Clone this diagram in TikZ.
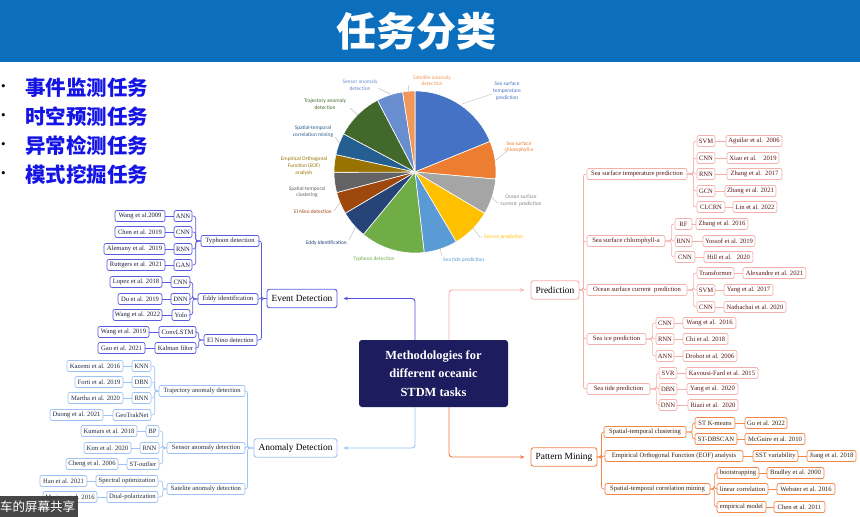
\documentclass[tikz,border=0pt]{standalone}
\usepackage{fontspec}
\setmainfont{Liberation Serif}
\newfontfamily\cjk{Noto Sans CJK SC}
\newfontfamily\pief{Carlito}
\usetikzlibrary{arrows.meta}
\definecolor{barblue}{HTML}{0B6FBE}
\definecolor{bulletblue}{HTML}{1414E6}
\definecolor{navy}{HTML}{1C1C5E}
\definecolor{evc}{HTML}{5A5ADF}
\definecolor{evt}{HTML}{1E1E40}
\definecolor{anc}{HTML}{9CC2F6}
\definecolor{ant}{HTML}{1E2A45}
\definecolor{prc}{HTML}{F5B0AC}
\definecolor{prt}{HTML}{5A1414}
\definecolor{pmc}{HTML}{F28548}
\definecolor{pmt}{HTML}{3C1E0A}
\definecolor{c1}{HTML}{4472C4}
\definecolor{c2}{HTML}{ED7D31}
\definecolor{c3}{HTML}{A5A5A5}
\definecolor{c4}{HTML}{FFC000}
\definecolor{c5}{HTML}{5B9BD5}
\definecolor{c6}{HTML}{70AD47}
\definecolor{c7}{HTML}{264478}
\definecolor{c8}{HTML}{9E480E}
\definecolor{c9}{HTML}{636363}
\definecolor{c10}{HTML}{997300}
\definecolor{c11}{HTML}{255E91}
\definecolor{c12}{HTML}{43682B}
\definecolor{c13}{HTML}{698ED0}
\definecolor{c14}{HTML}{F1975A}
\tikzset{
  bx/.style={rounded corners=2pt, draw, line width=0.7pt, inner sep=1pt,
    minimum height=11pt, fill=white, font=\fontsize{6.6}{7}\selectfont},
  ev/.style={bx, draw=evc, text=evt},
  an/.style={bx, draw=anc, text=ant},
  pr/.style={bx, draw=prc, text=prt},
  pm/.style={bx, draw=pmc, text=pmt},
  big/.style={minimum height=18.5pt, line width=0.9pt, rounded corners=2.5pt, font=\fontsize{9.4}{10}\selectfont, text=black},
  evm/.style={ev, big},
  anm/.style={an, big},
  prm/.style={pr, big},
  pmm/.style={pm, big},
  evl/.style={draw=evc, line width=0.7pt, rounded corners=2.5pt},
  anl/.style={draw=anc, line width=0.7pt, rounded corners=2.5pt},
  prl/.style={draw=prc, line width=0.7pt, rounded corners=2.5pt},
  pml/.style={draw=pmc, line width=0.7pt, rounded corners=2.5pt},
  arr/.style={line width=0.9pt, rounded corners=3pt, shorten >=6pt, -{Stealth[length=4.5pt,width=3.6pt]}},
  pl/.style={font=\pief\fontsize{5.4}{6.6}\selectfont, align=center, inner sep=0pt},
  lead/.style={draw=black!35, line width=0.3pt},
  bul/.style={anchor=west, inner sep=0pt, text=bulletblue, font=\cjk\bfseries\fontsize{20.5}{22}\selectfont},
  dot/.style={anchor=west, inner sep=0pt, font=\fontsize{13}{14}\selectfont}
}
\newcommand\bxn[6]{\node[#1, minimum width={(#4-#3)*1pt}] (#2) at ({(#3+#4)/2},#5) {#6};}
\newcommand\lk[4]{\draw[#1] (#3.east) -| ([xshift=-#4pt]#2.west) -- (#2.west);}
\newcommand\rk[4]{\draw[#1] (#2.east) -- ([xshift=#4pt]#2.east) |- (#3.west);}
\newcommand\lnk[3]{\draw[#1] (#2) -- (#3);}
\begin{document}
\begin{tikzpicture}[x=1pt,y=-1pt]
\useasboundingbox (0,0) rectangle (860,517);
\fill[white] (0,0) rectangle (860,517);
% title bar
\fill[barblue] (0,0) rectangle (860,62);
\node[text=white, font=\cjk\bfseries\fontsize{40}{44}\selectfont, inner sep=0pt] (title) at (416,31) {任务分类};
% bullets
\node[dot] (d1) at (1,88) {•};
\node[dot] (d2) at (1,117) {•};
\node[dot] (d3) at (1,146) {•};
\node[dot] (d4) at (1,175) {•};
\node[bul] (b1) at (25,88) {事件监测任务};
\node[bul] (b2) at (25,117) {时空预测任务};
\node[bul] (b3) at (25,146) {异常检测任务};
\node[bul] (b4) at (25,175) {模式挖掘任务};
% pie chart
\begin{scope}[shift={(415,172)}]
\begin{scope}[yscale=-1]
\foreach \a/\b/\c in {90/22.2/c1, 22.2/-5/c2, -5/-30.7/c3, -30.7/-59.4/c4, -59.4/-83.5/c5,
  -83.5/-129.6/c6, -129.6/-149.4/c7, -149.4/-165.3/c8, -165.3/-179.8/c9, -179.8/-192.4/c10,
  -192.4/-208.1/c11, -208.1/-242.4/c12, -242.4/-261.2/c13, -261.2/-270/c14}
  \filldraw[fill=\c, draw=white, line width=0.6pt] (0,0) -- (\a:81) arc[start angle=\a, end angle=\b, radius=81] -- cycle;
\end{scope}
\end{scope}
% pie leader lines
\draw[lead] (462,104) -- (492,94);
\draw[lead] (496,160) -- (507,151);
\draw[lead] (492,197) -- (497,203) -- (502,203);
\draw[lead] (473,228) -- (480,237) -- (483,237);
\draw[lead] (440,248) -- (442,256);
\draw[lead] (356,226) -- (349,240);
\draw[lead] (340,203) -- (334,211);
\draw[lead] (335,137) -- (340,144);
\draw[lead] (350,108) -- (358,115);
\draw[lead] (378,88) -- (390,94);
\draw[lead] (409,85) -- (408,92);
% pie labels
\node[pl,text=c1] (l1) at (507,91) {Sea surface\\temperature\\prediction};
\node[pl,text=c2] (l2) at (519,147) {Sea surface\\chlorophyll-a};
\node[pl,text=c3!80!black] (l3) at (521,200.5) {Ocean surface\\current\ \ prediction};
\node[pl,text=c4,anchor=west] (l4) at (484,237) {Sea ice prediction};
\node[pl,text=c5,anchor=west] (l5) at (443,260) {Sea tide prediction};
\node[pl,text=c6] (l6) at (374,259) {Typhoon detection};
\node[pl,text=c7,anchor=east] (l7) at (347,243) {Eddy Identification};
\node[pl,text=c8,anchor=east] (l8) at (332,212) {El Nino detection};
\node[pl,text=c9] (l9) at (307,192) {Spatial-temporal\\clustering};
\node[pl,text=c10] (l10) at (304,166) {Empirical Orthogonal\\Function (EOF)\\analysis};
\node[pl,text=c11] (l11) at (313,131.5) {Spatial-temporal\\correlation mining};
\node[pl,text=c12] (l12) at (325,104) {Trajectory anomaly\\detection};
\node[pl,text=c13] (l13) at (360,85) {Sensor anomaly\\detection};
\node[pl,text=c14] (l14) at (432,80.5) {Satellite anomaly\\detection};
% center node
\node[fill=navy, rounded corners=3pt, minimum width=149pt, minimum height=67pt, text=white,
  font=\bfseries\fontsize{12.4}{18.3}\selectfont, align=center, inner sep=0pt] (ctr) at (433.5,373.5)
  {Methodologies for\\different oceanic\\STDM tasks};
% ---------- Event detection ----------
\bxn{evm}{evd}{267}{337}{298.5}{Event Detection}
\bxn{ev}{typh}{201}{259}{241}{Typhoon detection}
\bxn{ev}{eddy}{198}{258}{299}{Eddy identification}
\bxn{ev}{elnino}{204}{257}{340}{El Nino detection}
\bxn{ev}{tA}{174}{192}{216}{ANN}
\bxn{ev}{tC}{174}{192}{232}{CNN}
\bxn{ev}{tR}{174}{192}{249}{RNN}
\bxn{ev}{tG}{174}{192}{265}{GAN}
\bxn{ev}{ctA}{115}{165}{216}{Wang et al.2009}
\bxn{ev}{ctC}{115}{165}{232}{Chen et al. 2019}
\bxn{ev}{ctR}{104}{165}{249}{Alemany et al.\ \ 2019}
\bxn{ev}{ctG}{107}{165}{265}{Ruttgers et al. 2021}
\bxn{ev}{eC}{171}{190}{282}{CNN}
\bxn{ev}{eD}{171}{190}{299}{DNN}
\bxn{ev}{eY}{172}{190}{315}{Yolo}
\bxn{ev}{ceC}{110}{162}{282}{Lopez et al. 2018}
\bxn{ev}{ceD}{118}{162}{299}{Du et al. 2019}
\bxn{ev}{ceY}{113}{162}{315}{Wang et al. 2022}
\bxn{ev}{nC}{159}{196}{332}{ConvLSTM}
\bxn{ev}{nK}{155}{196}{348}{Kalman filter}
\bxn{ev}{cnC}{98}{149}{332}{Wang et al. 2019}
\bxn{ev}{cnK}{98}{145}{348}{Gao et al. 2021}
\lk{evl}{evd}{typh}{5}\lk{evl}{evd}{eddy}{5}\lk{evl}{evd}{elnino}{5}
\lk{evl}{typh}{tA}{5}\lk{evl}{typh}{tC}{5}\lk{evl}{typh}{tR}{5}\lk{evl}{typh}{tG}{5}
\lk{evl}{eddy}{eC}{5}\lk{evl}{eddy}{eD}{5}\lk{evl}{eddy}{eY}{5}
\lk{evl}{elnino}{nC}{5}\lk{evl}{elnino}{nK}{5}
\lnk{evl}{ctA.east}{tA.west}\lnk{evl}{ctC.east}{tC.west}\lnk{evl}{ctR.east}{tR.west}\lnk{evl}{ctG.east}{tG.west}
\lnk{evl}{ceC.east}{eC.west}\lnk{evl}{ceD.east}{eD.west}\lnk{evl}{ceY.east}{eY.west}
\lnk{evl}{cnC.east}{nC.west}\lnk{evl}{cnK.east}{nK.west}
% ---------- Anomaly detection ----------
\bxn{anm}{anom}{254}{337}{448}{Anomaly Detection}
\bxn{an}{traj}{159}{245}{391}{Trajectory anomaly detection}
\bxn{an}{sens}{167}{245}{448}{Sensor anomaly detection}
\bxn{an}{sate}{167}{245}{489}{Satelite anomaly detection}
\bxn{an}{aK}{132}{151}{366}{KNN}
\bxn{an}{aD}{132}{151}{382}{DBN}
\bxn{an}{aR}{132}{151}{398}{RNN}
\bxn{an}{aG}{113}{151}{415}{GeoTrakNet}
\bxn{an}{caK}{67}{123}{366}{Kazemi et al. 2016}
\bxn{an}{caD}{75}{123}{382}{Forti et al. 2019}
\bxn{an}{caR}{68}{123}{398}{Martha et al. 2020}
\bxn{an}{caG}{50}{103}{415}{Duong et al. 2021}
\bxn{an}{sB}{146}{159}{431}{BP}
\bxn{an}{sR}{140}{159}{448}{RNN}
\bxn{an}{sS}{127}{159}{464}{ST-outlier}
\bxn{an}{csB}{81}{137}{431}{Kumars et al. 2018}
\bxn{an}{csR}{84}{131}{448}{Kim et al. 2020}
\bxn{an}{csS}{66}{118}{464}{Cheng et al. 2006}
\bxn{an}{tS}{96}{158}{481}{Spectral optimization}
\bxn{an}{tD}{107}{158}{497}{Dual-polarization}
\bxn{an}{ctS}{40}{87}{481}{Han et al. 2021}
\bxn{an}{ctD}{43}{97}{497}{Marino et al. 2016}
\lk{anl}{anom}{traj}{6}\lk{anl}{anom}{sens}{6}\lk{anl}{anom}{sate}{6}
\lk{anl}{traj}{aK}{4}\lk{anl}{traj}{aD}{4}\lk{anl}{traj}{aR}{4}\lk{anl}{traj}{aG}{4}
\lk{anl}{sens}{sB}{4}\lk{anl}{sens}{sR}{4}\lk{anl}{sens}{sS}{4}
\lk{anl}{sate}{tS}{4}\lk{anl}{sate}{tD}{4}
\lnk{anl}{caK.east}{aK.west}\lnk{anl}{caD.east}{aD.west}\lnk{anl}{caR.east}{aR.west}\lnk{anl}{caG.east}{aG.west}
\lnk{anl}{csB.east}{sB.west}\lnk{anl}{csR.east}{sR.west}\lnk{anl}{csS.east}{sS.west}
\lnk{anl}{ctS.east}{tS.west}\lnk{anl}{ctD.east}{tD.west}
% ---------- Prediction ----------
\bxn{prm}{pred}{531}{579}{290}{Prediction}
\bxn{pr}{sst}{587}{687}{174}{Sea surface temperature prediction}
\bxn{pr}{chl}{587}{665}{241}{Sea surface chlorophyll-a}
\bxn{pr}{ocn}{587}{687}{290}{Ocean surface current\ \ prediction}
\bxn{pr}{ice}{587}{646}{339}{Sea ice prediction}
\bxn{pr}{tide}{587}{650}{389}{Sea tide prediction}
\bxn{pr}{s1}{697}{715}{141}{SVM}
\bxn{pr}{s2}{697}{715}{158}{CNN}
\bxn{pr}{s3}{697}{715}{174}{RNN}
\bxn{pr}{s4}{697}{715}{191}{GCN}
\bxn{pr}{s5}{697}{725}{207}{CLCRN}
\bxn{pr}{cs1}{726}{782}{141}{Aguilar et al.\ \ 2006}
\bxn{pr}{cs2}{727}{779}{158}{Xiao et al.\ \ \ \ 2019}
\bxn{pr}{cs3}{727}{782}{174}{Zhang et al.\ \ 2017}
\bxn{pr}{cs4}{725}{776}{191}{Zhang et al. 2021}
\bxn{pr}{cs5}{733}{777}{207}{Lin et al. 2022}
\bxn{pr}{h1}{675}{692}{224}{RF}
\bxn{pr}{h2}{675}{692}{241}{RNN}
\bxn{pr}{h3}{675}{695}{257}{CNN}
\bxn{pr}{ch1}{696}{748}{224}{Zhang et al. 2016}
\bxn{pr}{ch2}{703}{755}{241}{Yossof et al. 2019}
\bxn{pr}{ch3}{704}{753}{257}{Hill et al.\ \ \ 2020}
\bxn{pr}{o1}{697}{734}{273}{Transformer}
\bxn{pr}{o2}{697}{715}{290}{SVM}
\bxn{pr}{o3}{697}{715}{307}{CNN}
\bxn{pr}{co1}{743}{806}{273}{Alexandre et al. 2021}
\bxn{pr}{co2}{724}{773}{290}{Yang et al. 2017}
\bxn{pr}{co3}{724}{786}{307}{Nathachai et al. 2020}
\bxn{pr}{i1}{656}{674}{323}{CNN}
\bxn{pr}{i2}{656}{674}{339}{RNN}
\bxn{pr}{i3}{656}{674}{356}{ANN}
\bxn{pr}{ci1}{683}{736}{323}{Wang et al.\ \ 2016}
\bxn{pr}{ci2}{683}{728}{339}{Chi et al. 2018}
\bxn{pr}{ci3}{683}{737}{356}{Drobot et al. 2006}
\bxn{pr}{d1}{659}{677}{373}{SVR}
\bxn{pr}{d2}{659}{677}{389}{DBN}
\bxn{pr}{d3}{659}{677}{405}{DNN}
\bxn{pr}{cd1}{686}{758}{373}{Kavousi-Fard et al. 2015}
\bxn{pr}{cd2}{687}{738}{389}{Yang et al.\ \ 2020}
\bxn{pr}{cd3}{688}{738}{405}{Riazi et al.\ \ 2020}
\rk{prl}{pred}{sst}{4}\rk{prl}{pred}{chl}{4}\rk{prl}{pred}{ocn}{4}\rk{prl}{pred}{ice}{4}\rk{prl}{pred}{tide}{4}
\rk{prl}{sst}{s1}{6}\rk{prl}{sst}{s2}{6}\rk{prl}{sst}{s3}{6}\rk{prl}{sst}{s4}{6}\rk{prl}{sst}{s5}{6}
\rk{prl}{chl}{h1}{6}\rk{prl}{chl}{h2}{6}\rk{prl}{chl}{h3}{6}
\rk{prl}{ocn}{o1}{6}\rk{prl}{ocn}{o2}{6}\rk{prl}{ocn}{o3}{6}
\rk{prl}{ice}{i1}{6}\rk{prl}{ice}{i2}{6}\rk{prl}{ice}{i3}{6}
\rk{prl}{tide}{d1}{6}\rk{prl}{tide}{d2}{6}\rk{prl}{tide}{d3}{6}
\lnk{prl}{s1.east}{cs1.west}\lnk{prl}{s2.east}{cs2.west}\lnk{prl}{s3.east}{cs3.west}\lnk{prl}{s4.east}{cs4.west}\lnk{prl}{s5.east}{cs5.west}
\lnk{prl}{h1.east}{ch1.west}\lnk{prl}{h2.east}{ch2.west}\lnk{prl}{h3.east}{ch3.west}
\lnk{prl}{o1.east}{co1.west}\lnk{prl}{o2.east}{co2.west}\lnk{prl}{o3.east}{co3.west}
\lnk{prl}{i1.east}{ci1.west}\lnk{prl}{i2.east}{ci2.west}\lnk{prl}{i3.east}{ci3.west}
\lnk{prl}{d1.east}{cd1.west}\lnk{prl}{d2.east}{cd2.west}\lnk{prl}{d3.east}{cd3.west}
% ---------- Pattern mining ----------
\bxn{pmm}{patt}{531}{597}{457}{Pattern Mining}
\bxn{pm}{clu}{604}{686}{432}{Spatial-temporal clustering}
\bxn{pm}{eof}{605}{743}{456}{Empirical Orthogonal Function (EOF) analysis}
\bxn{pm}{cor}{605}{710}{489}{Spatial-temporal correlation mining}
\bxn{pm}{k1}{695}{735}{423}{ST K-means}
\bxn{pm}{k2}{695}{737}{439}{ST-DBSCAN}
\bxn{pm}{ck1}{745}{787}{423}{Gu et al. 2022}
\bxn{pm}{ck2}{745}{805}{439}{McGuire et al. 2010}
\bxn{pm}{e1}{753}{798}{456}{SST variability}
\bxn{pm}{ce1}{807}{856}{456}{Jiang et al. 2018}
\bxn{pm}{r1}{717}{759}{473}{bootstrapping}
\bxn{pm}{r2}{717}{768}{489}{linear correlation}
\bxn{pm}{r3}{717}{766}{507}{empirical model}
\bxn{pm}{cr1}{767}{824}{473}{Bradley et al. 2000}
\bxn{pm}{cr2}{777}{835}{489}{Webster et al. 2016}
\bxn{pm}{cr3}{774}{825}{507}{Chen et al. 2011}
\rk{pml}{patt}{clu}{4}\rk{pml}{patt}{eof}{4}\rk{pml}{patt}{cor}{4}
\rk{pml}{clu}{k1}{6}\rk{pml}{clu}{k2}{6}
\rk{pml}{cor}{r1}{4}\rk{pml}{cor}{r2}{4}\rk{pml}{cor}{r3}{4}
\lnk{pml}{eof.east}{e1.west}\lnk{pml}{e1.east}{ce1.west}
\lnk{pml}{k1.east}{ck1.west}\lnk{pml}{k2.east}{ck2.west}
\lnk{pml}{r1.east}{cr1.west}\lnk{pml}{r2.east}{cr2.west}\lnk{pml}{r3.east}{cr3.west}
% ---------- arrows from center ----------
\draw[arr, evc!90!blue] ([xshift=-18.5pt]ctr.north) |- (evd.east);
\draw[arr, anc] ([xshift=-18.5pt]ctr.south) |- (anom.east);
\draw[arr, prc] ([xshift=15.5pt]ctr.north) |- (pred.west);
\draw[arr, pmc!90!red] ([xshift=15.5pt]ctr.south) |- (patt.west);
% screen-share overlay
\fill[black!78, opacity=0.92] (0,496) rectangle (78,517);
\node[anchor=west, inner sep=0pt, text=white, font=\cjk\fontsize{12.5}{13}\selectfont] (ov) at (0,507) {车的屏幕共享};
\end{tikzpicture}
\end{document}
